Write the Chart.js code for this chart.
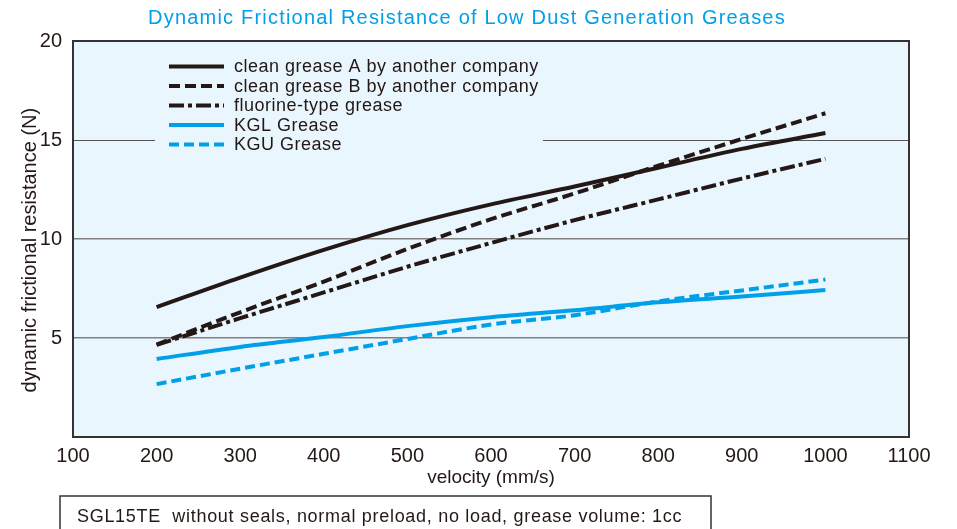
<!DOCTYPE html>
<html>
<head>
<meta charset="utf-8">
<script src="https://cdn.jsdelivr.net/npm/chart.js@4/dist/chart.umd.min.js"></script>
<style>
  html, body { margin: 0; padding: 0; background: #fff; }
  #wrap { width: 957px; height: 529px; position: relative; }
</style>
</head>
<body>
<div id="wrap"><canvas id="grease-chart" width="957" height="529"></canvas></div>
<script>
// 速度 (mm/s)
const velocities = [200, 300, 400, 500, 600, 700, 800, 900, 1000];

// 動摩擦抵抗 (N)
const cleanGreaseA = [6.56, 8.05, 9.45, 10.7, 11.75, 12.65, 13.6, 14.55, 15.35];
const cleanGreaseB = [4.67, 6.3, 7.85, 9.5, 11.0, 12.3, 13.7, 15.05, 16.35];
const fluorineGrease = [4.65, 6.0, 7.3, 8.6, 9.8, 10.95, 12.0, 13.05, 14.05];
const kglGrease = [3.94, 4.55, 5.05, 5.6, 6.05, 6.4, 6.8, 7.1, 7.42];
const kguGrease = [2.67, 3.45, 4.2, 4.95, 5.68, 6.15, 6.85, 7.4, 7.95];

const seriesLabels = [
  'clean grease A by another company',
  'clean grease B by another company',
  'fluorine-type grease',
  'KGL Grease',
  'KGU Grease'
];

const xTicks = [100, 200, 300, 400, 500, 600, 700, 800, 900, 1000, 1100];
const yTicks = [5, 10, 15, 20];

const titleText = 'Dynamic Frictional Resistance of Low Dust Generation Greases';
const noteText = 'SGL15TE  without seals, normal preload, no load, grease volume: 1cc';

const BLACK = '#231815';
const BLUE = '#00a0e9';
const PLOT_BG = '#eaf6fd';
const FONT = "'Liberation Sans', Arial, sans-serif";

function toPoints(values) {
  return values.map((v, i) => ({ x: velocities[i], y: v }));
}

const seriesValues = [cleanGreaseA, cleanGreaseB, fluorineGrease, kglGrease, kguGrease];
const seriesStyles = [
  { color: BLACK, dash: [] },
  { color: BLACK, dash: [11, 5] },
  { color: BLACK, dash: [15, 4, 4, 4] },
  { color: BLUE, dash: [] },
  { color: BLUE, dash: [10, 5] }
];

const datasets = seriesValues.map((values, i) => ({
  label: seriesLabels[i],
  data: toPoints(values),
  borderColor: seriesStyles[i].color,
  borderDash: seriesStyles[i].dash,
  borderWidth: 4,
  borderCapStyle: 'butt',
  pointRadius: 0,
  fill: false,
  cubicInterpolationMode: 'monotone'
}));

// 背景・凡例・タイトル・注記を描くプラグイン
const decorPlugin = {
  id: 'decor',
  beforeDraw(chart) {
    const { ctx, chartArea: a } = chart;
    ctx.save();
    ctx.fillStyle = PLOT_BG;
    ctx.fillRect(a.left, a.top, a.right - a.left, a.bottom - a.top);
    ctx.restore();
  },
  beforeDatasetsDraw(chart) {
    // 凡例の背後は目盛線を消す
    const { ctx } = chart;
    ctx.save();
    ctx.fillStyle = PLOT_BG;
    ctx.fillRect(155, 52, 388, 104);
    ctx.restore();
  },
  afterDraw(chart) {
    const { ctx, chartArea: a } = chart;
    ctx.save();

    // 枠線
    ctx.strokeStyle = '#333';
    ctx.lineWidth = 2;
    ctx.strokeRect(a.left, a.top, a.right - a.left, a.bottom - a.top);

    // 凡例
    const rowY = [66.5, 86, 105.5, 125, 144.5];
    chart.data.datasets.forEach((ds, i) => {
      const y = rowY[i];
      ctx.beginPath();
      ctx.setLineDash(ds.borderDash);
      ctx.lineDashOffset = 0;
      ctx.strokeStyle = ds.borderColor;
      ctx.lineWidth = 4;
      ctx.lineCap = 'butt';
      ctx.moveTo(169, y);
      ctx.lineTo(224, y);
      ctx.stroke();
      ctx.setLineDash([]);
      ctx.fillStyle = BLACK;
      ctx.font = '18px ' + FONT;
      ctx.letterSpacing = '0.5px';
      ctx.textAlign = 'left';
      ctx.textBaseline = 'middle';
      ctx.fillText(ds.label, 234, y + 1);
    });

    // タイトル
    ctx.letterSpacing = '1.2px';
    ctx.fillStyle = BLUE;
    ctx.font = '20px ' + FONT;
    ctx.textAlign = 'center';
    ctx.textBaseline = 'middle';
    ctx.fillText(titleText, 467, 18);

    // 注記ボックス
    ctx.letterSpacing = '0.7px';
    ctx.strokeStyle = '#333';
    ctx.lineWidth = 1.5;
    ctx.strokeRect(60, 496, 651, 40);
    ctx.fillStyle = BLACK;
    ctx.font = '18px ' + FONT;
    ctx.textAlign = 'left';
    ctx.textBaseline = 'middle';
    ctx.fillText(noteText, 77, 517);

    ctx.restore();
  }
};

new Chart(document.getElementById('grease-chart'), {
  type: 'line',
  data: { datasets: datasets },
  plugins: [decorPlugin],
  options: {
    responsive: false,
    animation: false,
    events: [],
    layout: { padding: { top: 41, right: 48, bottom: 32, left: 0 } },
    plugins: {
      legend: { display: false },
      title: { display: false },
      tooltip: { enabled: false }
    },
    scales: {
      x: {
        type: 'linear',
        min: 100,
        max: 1100,
        afterBuildTicks: scale => { scale.ticks = xTicks.map(v => ({ value: v })); },
        afterFit: scale => { scale.height = 60; },
        grid: { display: false, drawTicks: false },
        border: { display: false },
        ticks: {
          padding: 7,
          color: BLACK,
          font: { family: FONT, size: 20 },
          maxRotation: 0,
          autoSkip: false,
          callback: v => String(v)
        },
        title: {
          display: true,
          text: 'velocity (mm/s)',
          color: BLACK,
          font: { family: FONT, size: 19 },
          padding: { top: 0, bottom: 8 }
        }
      },
      y: {
        type: 'linear',
        min: 0,
        max: 20,
        afterBuildTicks: scale => { scale.ticks = [0].concat(yTicks).map(v => ({ value: v })); },
        afterFit: scale => { scale.width = 73; },
        grid: {
          drawTicks: false,
          color: ctx => (ctx.tick && ctx.tick.value === 15 ? '#555' : '#808080'),
          lineWidth: ctx => (ctx.tick && ctx.tick.value === 15 ? 1 : 1.6)
        },
        border: { display: false },
        ticks: {
          padding: 11,
          color: BLACK,
          font: { family: FONT, size: 20 },
          callback: v => (v === 0 ? '' : String(v))
        },
        title: {
          display: true,
          text: 'dynamic frictional resistance (N)    ',
          color: BLACK,
          font: { family: FONT, size: 20 },
          padding: { top: 18, bottom: 0 }
        }
      }
    }
  }
});
</script>
</body>
</html>
